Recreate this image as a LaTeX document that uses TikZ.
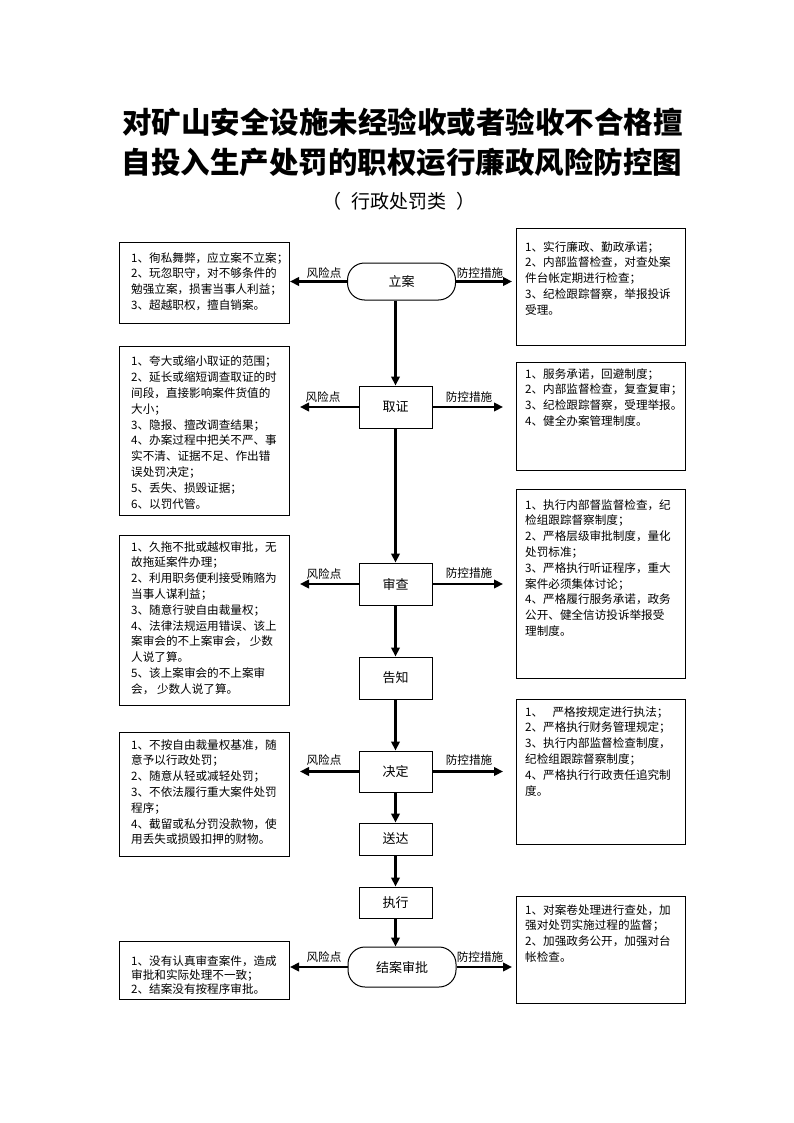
\documentclass[tikz,border=0pt]{standalone}
\usepackage{fontspec}
\setmainfont{Noto Sans CJK SC}
\usetikzlibrary{arrows.meta}
\begin{document}
\begin{tikzpicture}[x=1pt,y=-1pt,
  flow/.style={draw, line width=1pt, minimum width=73pt, inner sep=0pt, font=\fontsize{13}{15}\selectfont},
  term/.style={draw, line width=1pt, rounded corners=17pt, minimum width=108pt, inner sep=0pt, font=\fontsize{13}{15}\selectfont},
  box/.style={draw, line width=1pt, anchor=north west, inner sep=0pt},
  btxt/.style={anchor=north west, inner sep=0pt, align=left, font=\fontsize{11.6}{15.8}\selectfont},
  lab/.style={inner sep=0pt, font=\fontsize{11.6}{14}\selectfont},
  ttl/.style={inner sep=0pt, font=\fontsize{29.5}{34}\selectfont\bfseries},
  arr/.style={line width=2.4pt, -{Triangle[length=9pt,width=8.5pt]}}
]
\useasboundingbox (0,0) rectangle (794,1123);
% titles
\node[ttl] (t1) at (402.5,122) {对矿山安全设施未经验收或者验收不合格擅};
\node[ttl] (t2) at (402,162) {自投入生产处罚的职权运行廉政风险防控图};
\node[inner sep=0pt, font=\fontsize{19}{22}\selectfont] (t3) at (399,201) {\makebox[19pt][l]{\hspace{-10pt}（}行政处罚类\makebox[19pt][l]{\hspace{10pt}）}};
% flow nodes
\node[term, minimum height=37pt] (la) at (401.5,281.5) {立案};
\node[flow, minimum height=42pt] (qz) at (395.5,407) {取证};
\node[flow, minimum height=42pt] (sc) at (395.5,584) {审查};
\node[flow, minimum height=42pt] (gz) at (395.5,678) {告知};
\node[flow, minimum height=41pt] (jd) at (395.5,771.5) {决定};
\node[flow, minimum height=32pt] (sd) at (395.5,839) {送达};
\node[flow, minimum height=31pt] (zx) at (395.5,902.5) {执行};
\node[term, minimum height=40pt] (ja) at (402,967) {结案审批};
% vertical arrows
\draw[arr] (la.south -| qz.north) -- (qz.north);
\draw[arr] (qz.south) -- (sc.north);
\draw[arr] (sc.south) -- (gz.north);
\draw[arr] (gz.south) -- (jd.north);
\draw[arr] (jd.south) -- (sd.north);
\draw[arr] (sd.south) -- (zx.north);
\draw[arr] (zx.south) -- (zx.south |- ja.north);
% side arrow ends
\coordinate (laL) at (290,281.5); \coordinate (laR) at (512,281.5);
\coordinate (qzL) at (300,407);   \coordinate (qzR) at (503,407);
\coordinate (scL) at (300,584);   \coordinate (scR) at (503,584);
\coordinate (jdL) at (300,771.5); \coordinate (jdR) at (503,771.5);
\coordinate (jaL) at (290,967);   \coordinate (jaR) at (512,967);
\foreach \n in {la,qz,sc,jd,ja}{
  \draw[arr] (\n.west) -- (\n L);
  \draw[arr] (\n.east) -- (\n R);
}
% side labels
\node[lab] (laLl) at (324,273) {风险点};  \node[lab] (laRl) at (480,273) {防控措施};
\node[lab] (qzLl) at (323,397) {风险点};  \node[lab] (qzRl) at (469,397) {防控措施};
\node[lab] (scLl) at (324,574) {风险点};  \node[lab] (scRl) at (469,573) {防控措施};
\node[lab] (jdLl) at (324,760) {风险点};  \node[lab] (jdRl) at (469,760) {防控措施};
\node[lab] (jaLl) at (324,957) {风险点};  \node[lab] (jaRl) at (480,957) {防控措施};
% boxes
\node[box, minimum width=170pt, minimum height=81pt]  (L1) at (119,242) {};
\node[box, minimum width=170pt, minimum height=169pt] (L2) at (119,346) {};
\node[box, minimum width=170pt, minimum height=170pt] (L3) at (119,535) {};
\node[box, minimum width=170pt, minimum height=124pt] (L4) at (119,732) {};
\node[box, minimum width=170pt, minimum height=58pt]  (L5) at (119,941) {};
\node[box, minimum width=169pt, minimum height=117pt] (R1) at (516,228) {};
\node[box, minimum width=169pt, minimum height=108pt] (R2) at (516,362) {};
\node[box, minimum width=169pt, minimum height=189pt] (R3) at (516,489) {};
\node[box, minimum width=169pt, minimum height=145pt] (R4) at (516,699) {};
\node[box, minimum width=169pt, minimum height=107pt] (R5) at (516,896) {};
% box texts
\node[btxt] (L1t) at (131,252) {1、徇私舞弊，应立案不立案；\\2、玩忽职守，对不够条件的\\勉强立案，损害当事人利益；\\3、超越职权，擅自销案。};
\node[btxt] (L2t) at (131,356) {1、夸大或缩小取证的范围；\\2、延长或缩短调查取证的时\\间段，直接影响案件货值的\\大小；\\3、隐报、擅改调查结果；\\4、办案过程中把关不严、事\\实不清、证据不足、作出错\\误处罚决定；\\5、丢失、损毁证据；\\6、以罚代管。};
\node[btxt] (L3t) at (131,541) {1、久拖不批或越权审批，无\\故拖延案件办理；\\2、利用职务便利接受贿赂为\\当事人谋利益；\\3、随意行驶自由裁量权；\\4、法律法规运用错误、该上\\案审会的不上案审会， 少数\\人说了算。\\5、该上案审会的不上案审\\会， 少数人说了算。};
\node[btxt] (L4t) at (131,739) {1、不按自由裁量权基准，随\\意予以行政处罚；\\2、随意从轻或减轻处罚；\\3、不依法履行重大案件处罚\\程序；\\4、截留或私分罚没款物，使\\用丢失或损毁扣押的财物。};
\node[btxt, font=\fontsize{11.6}{14}\selectfont] (L5t) at (131,955) {1、没有认真审查案件，造成\\审批和实际处理不一致；\\2、结案没有按程序审批。};
\node[btxt] (R1t) at (525,241) {1、实行廉政、勤政承诺；\\2、内部监督检查，对查处案\\件台帐定期进行检查；\\3、纪检跟踪督察，举报投诉\\受理。};
\node[btxt] (R2t) at (525,368) {1、服务承诺，回避制度；\\2、内部监督检查，复查复审；\\3、纪检跟踪督察，受理举报。\\4、健全办案管理制度。};
\node[btxt] (R3t) at (525,499) {1、执行内部督监督检查，纪\\检组跟踪督察制度；\\2、严格层级审批制度，量化\\处罚标准；\\3、严格执行听证程序，重大\\案件必须集体讨论；\\4、严格履行服务承诺，政务\\公开、健全信访投诉举报受\\理制度。};
\node[btxt] (R4t) at (525,706) {1、\hspace{0.8em}严格按规定进行执法；\\2、严格执行财务管理规定；\\3、执行内部监督检查制度，\\纪检组跟踪督察制度；\\4、严格执行行政责任追究制\\度。};
\node[btxt] (R5t) at (525,904) {1、对案卷处理进行查处，加\\强对处罚实施过程的监督；\\2、加强政务公开，加强对台\\帐检查。};
\end{tikzpicture}
\end{document}
